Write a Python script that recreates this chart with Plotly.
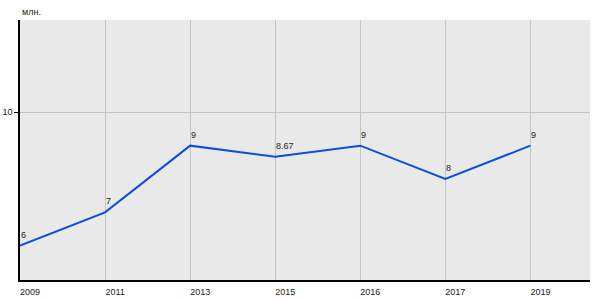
import plotly.graph_objects as go

years = ["2009", "2011", "2013", "2015", "2016", "2017", "2019"]
values = [6, 7, 9, 8.67, 9, 8, 9]
labels = ["6", "7", "9", "8.67", "9", "8", "9"]
unit = "млн."

FONT = "Liberation Sans, Arial, sans-serif"

fig = go.Figure()
fig.add_trace(go.Scatter(
    x=years, y=values, mode="lines",
    line=dict(color="#0a4de0", width=2),
    hoverinfo="skip", showlegend=False,
))

for i, (yv, t) in enumerate(zip(values, labels)):
    fig.add_annotation(
        x=i, y=yv, text=t, showarrow=False,
        xanchor="left", yanchor="bottom", xshift=-1, yshift=4,
        font=dict(family=FONT, size=9, color="#222222"),
    )

fig.add_annotation(
    xref="paper", yref="paper", x=0, y=1, text=unit, showarrow=False,
    xanchor="left", yanchor="bottom", yshift=1,
    font=dict(family=FONT, size=9, color="#222222"),
)

fig.update_layout(
    width=600, height=300,
    margin=dict(l=20, r=10, t=20, b=20),
    paper_bgcolor="white", plot_bgcolor="#e9e9e9",
    font=dict(family=FONT, size=9, color="#222222"),
)
fig.update_xaxes(
    type="category", range=[0, 6.7], automargin=False,
    showgrid=True, gridcolor="#c4c4c4", gridwidth=1,
    showline=True, linecolor="black", linewidth=2,
    ticks="", ticklabelshift=10, ticklabelstandoff=2,
    tickfont=dict(family=FONT, size=9, color="#222222"),
    zeroline=False,
)
fig.update_yaxes(
    range=[4.97, 12.77], tickvals=[10], ticktext=["10"], automargin=False,
    showgrid=True, gridcolor="#c4c4c4", gridwidth=1,
    showline=True, linecolor="black", linewidth=1.5,
    ticks="outside", ticklen=4, tickcolor="black",
    tickfont=dict(family=FONT, size=9, color="#222222"),
    zeroline=False,
)

fig.write_html("out.html")
